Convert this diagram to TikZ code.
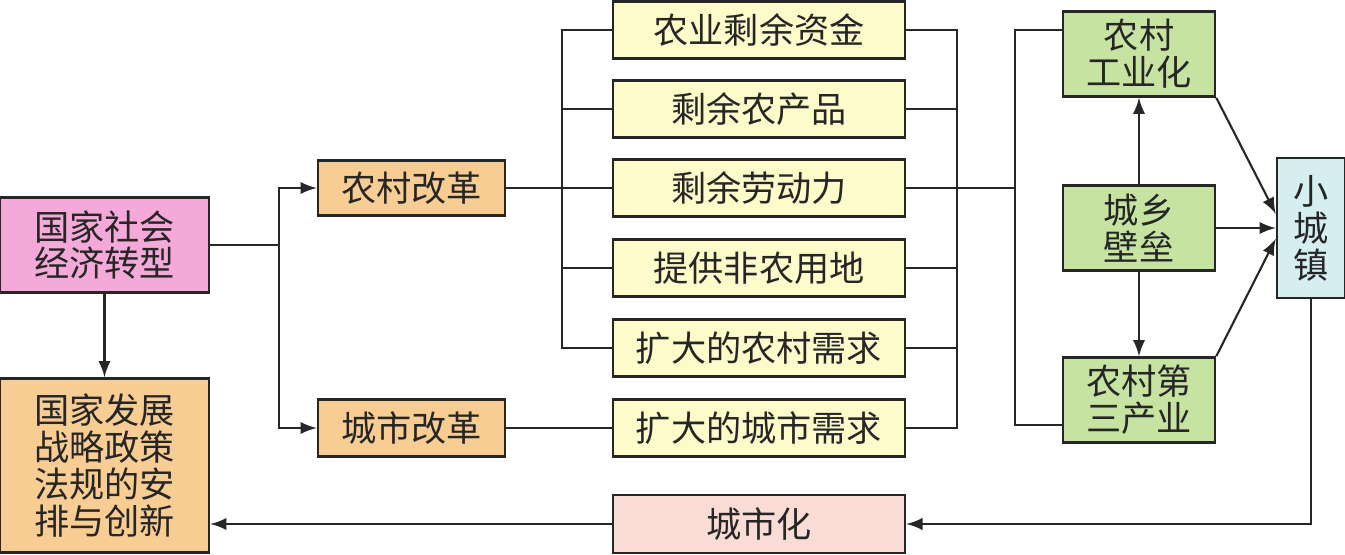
\documentclass[tikz,border=0pt]{standalone}
\usepackage{fontspec}
\newfontfamily\cjk{Noto Sans CJK SC}
\definecolor{socpink}{HTML}{F4A9D8}
\definecolor{reform}{HTML}{F8CD93}
\definecolor{surplus}{HTML}{FCFBC9}
\definecolor{rurgreen}{HTML}{C6E3A1}
\definecolor{townblue}{HTML}{D5EEF0}
\definecolor{citypink}{HTML}{FADCD6}
\begin{document}
\begin{tikzpicture}[x=0.01cm,y=-0.01cm,>=latex,
  box/.style={draw=black!85,line width=0.7pt,inner sep=0pt,align=center,
    text=black!85,font=\cjk\fontsize{10}{10.5}\selectfont},
  wide/.style={box,fill=surplus,minimum width=2.92cm,minimum height=0.57cm},
  green/.style={box,fill=rurgreen,minimum width=1.52cm,minimum height=0.85cm},
  link/.style={line width=0.6pt,draw=black!85}]
%
\useasboundingbox (0,0) rectangle (1345,554);
%
% left column
\node[box,fill=socpink,minimum width=2.09cm,minimum height=0.95cm] (soc) at (104.5,245) {国家社会\\经济转型};
\node[box,fill=reform,minimum width=2.09cm,minimum height=1.74cm] (plan) at (104.5,465.5) {国家发展\\战略政策\\法规的安\\排与创新};
%
% reforms
\node[box,fill=reform,minimum width=1.87cm,minimum height=0.55cm] (rural) at (411.5,188) {农村改革};
\node[box,fill=reform,minimum width=1.87cm,minimum height=0.57cm] (urban) at (411.5,428) {城市改革};
%
% middle column
\node[wide] (fund) at (759,30) {农业剩余资金};
\node[wide] (prod) at (759,109) {剩余农产品};
\node[wide] (labour) at (759,188) {剩余劳动力};
\node[wide] (land) at (759,268) {提供非农用地};
\node[wide] (rdem) at (759,348) {扩大的农村需求};
\node[wide] (udem) at (759,428) {扩大的城市需求};
\node[box,fill=citypink,minimum width=2.92cm,minimum height=0.58cm] (city) at (759,524) {城市化};
%
% right column
\node[green] (ind) at (1139,54) {农村\\工业化};
\node[green] (bar) at (1139,228) {城乡\\壁垒};
\node[green] (ter) at (1139,400) {农村第\\三产业};
\node[box,fill=townblue,minimum width=0.68cm,minimum height=1.40cm] (town) at (1311,228) {小\\城\\镇};
%
% junctions
\coordinate (split) at (279,245);
\coordinate (lb) at (562,0);
\coordinate (rb) at (957,0);
\coordinate (merge) at (1015,188);
%
% from the transition to the reforms
\draw[link] (soc.east) -- (split);
\draw[link,->] (split) |- (rural.west);
\draw[link,->] (split) |- (urban.west);
\draw[link,->] (soc.south) -- (plan.north);
%
% left bracket
\draw[link] (rural.east) -- (labour.west);
\draw[link] (fund.west) -- (lb |- fund.west) -- (lb |- rdem.west) -- (rdem.west);
\draw[link] (prod.west) -- (lb |- prod.west);
\draw[link] (land.west) -- (lb |- land.west);
\draw[link] (urban.east) -- (udem.west);
%
% right bracket
\draw[link] (fund.east) -- (rb |- fund.east) -- (rb |- udem.east) -- (udem.east);
\draw[link] (prod.east) -- (rb |- prod.east);
\draw[link] (labour.east) -- (merge);
\draw[link] (land.east) -- (rb |- land.east);
\draw[link] (rdem.east) -- (rb |- rdem.east);
\draw[link] (ind.163) -| (merge) |- (ter.198);
%
% right part
\draw[link,->] (bar.north) -- (ind.south);
\draw[link,->] (bar.south) -- (ter.north);
\draw[link,->] (ind.south east) -- (town.158);
\draw[link,->] (bar.east) -- (town.west);
\draw[link,->] (ter.north east) -- (town.197);
%
% back to the left
\draw[link,->] (town.south) |- (city.east);
\draw[link,->] (city.west) -- (city.west -| plan.east);
%
\end{tikzpicture}
\end{document}
